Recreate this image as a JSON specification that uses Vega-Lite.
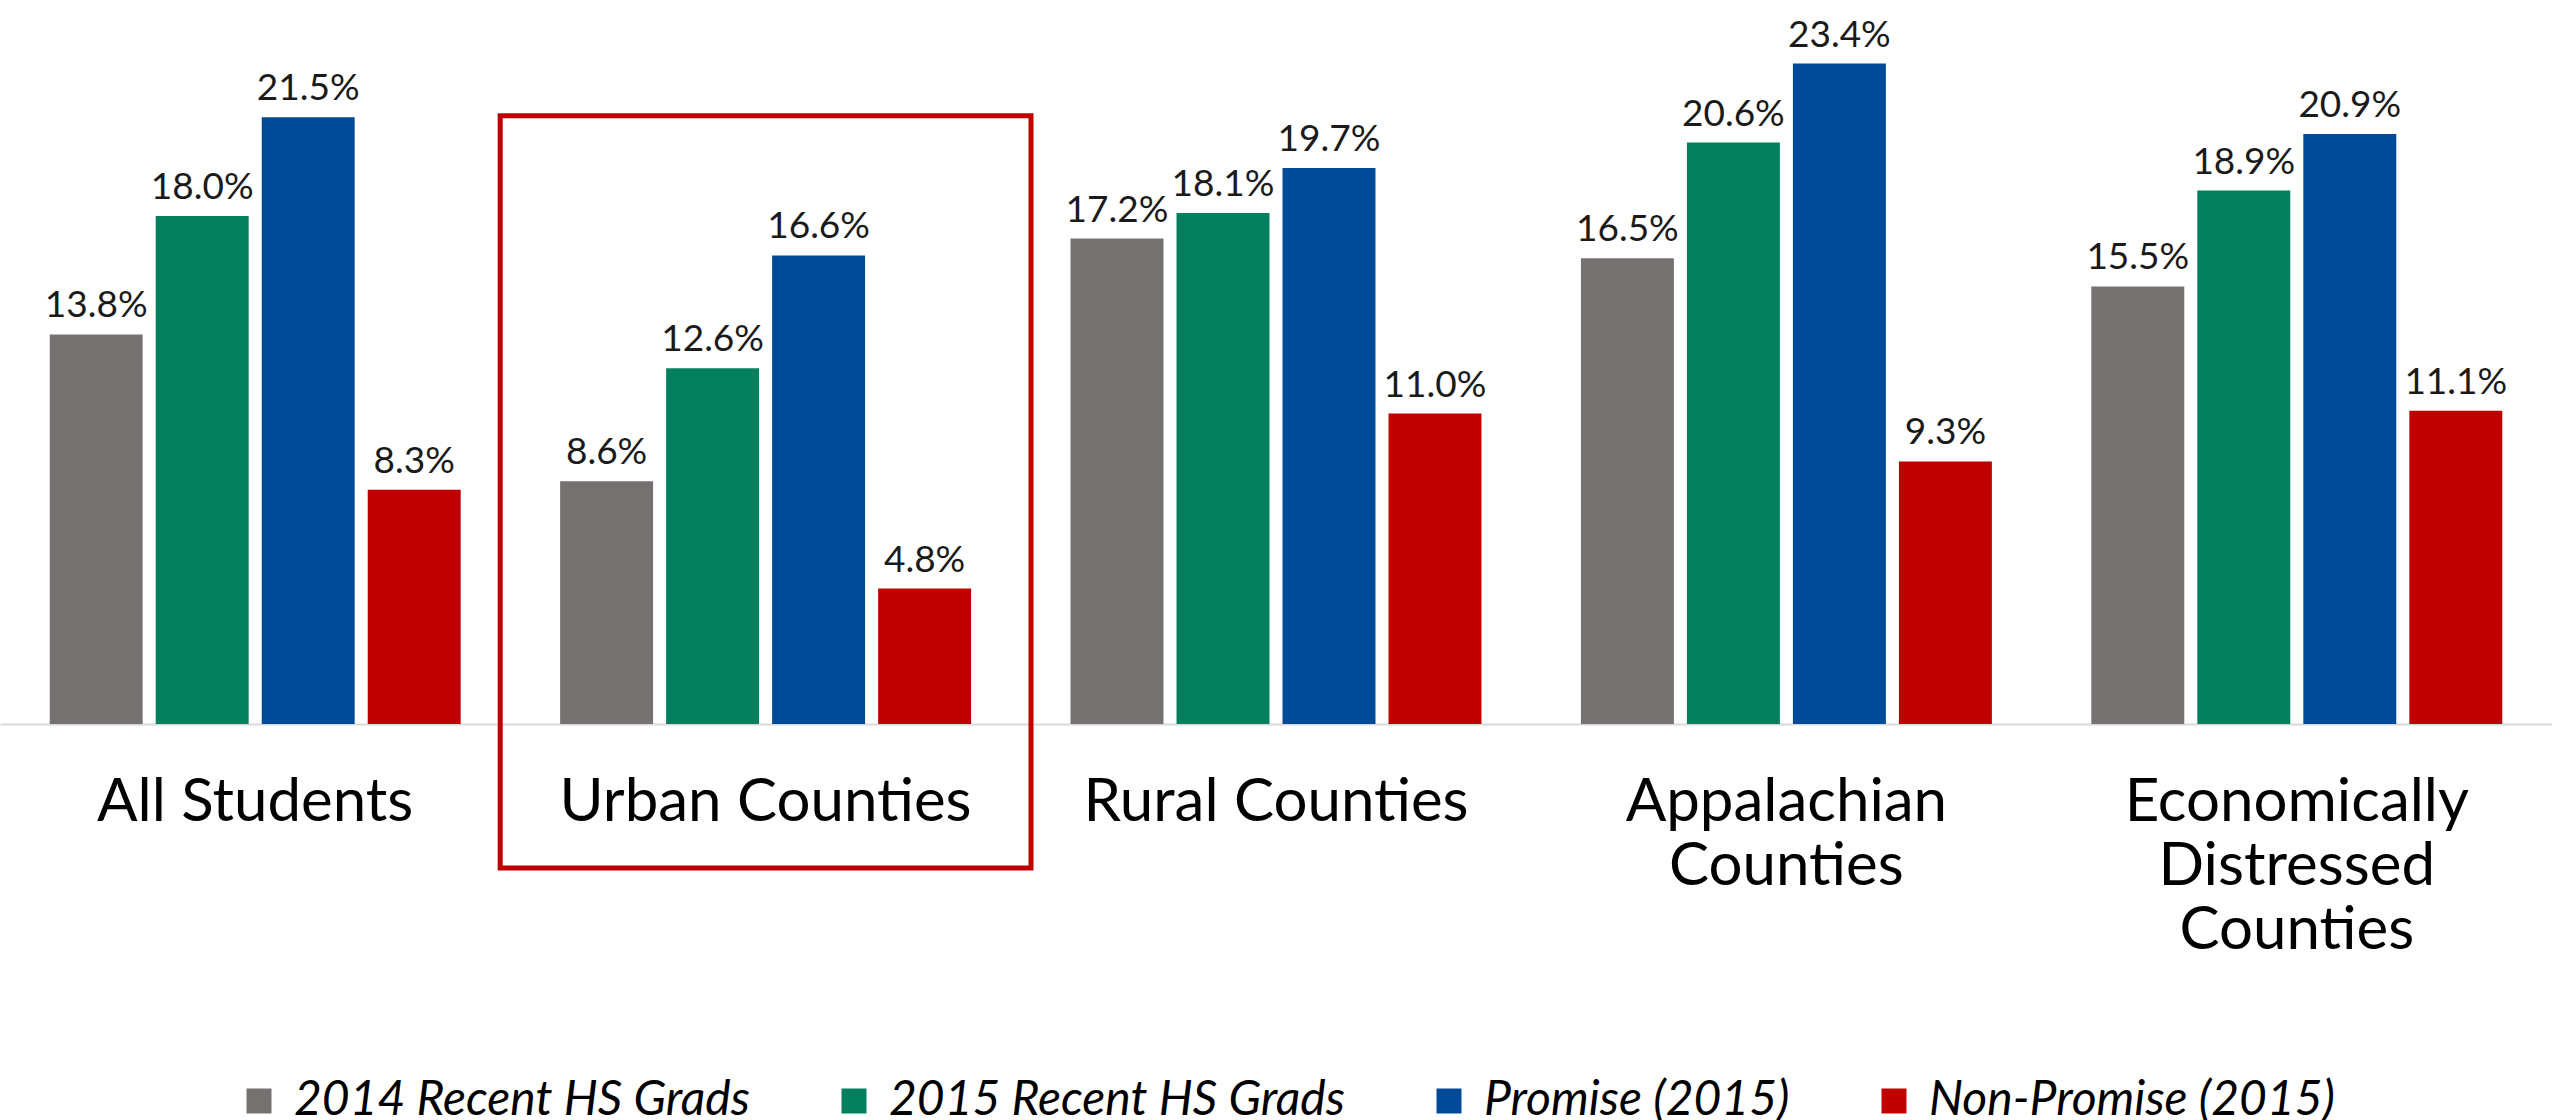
{
  "$schema": "https://vega.github.io/schema/vega-lite/v6.json",
  "width": 2552,
  "height": 724,
  "padding": 0,
  "autosize": {"type": "pad"},
  "config": {
    "view": {"stroke": null},
    "font": "Lato"
  },
  "datasets": {
    "rates": [
      {"category": "All Students", "series": "2014 Recent HS Grads", "value": 0.138},
      {"category": "All Students", "series": "2015 Recent HS Grads", "value": 0.180},
      {"category": "All Students", "series": "Promise (2015)", "value": 0.215},
      {"category": "All Students", "series": "Non-Promise (2015)", "value": 0.083},
      {"category": "Urban Counties", "series": "2014 Recent HS Grads", "value": 0.086},
      {"category": "Urban Counties", "series": "2015 Recent HS Grads", "value": 0.126},
      {"category": "Urban Counties", "series": "Promise (2015)", "value": 0.166},
      {"category": "Urban Counties", "series": "Non-Promise (2015)", "value": 0.048},
      {"category": "Rural Counties", "series": "2014 Recent HS Grads", "value": 0.172},
      {"category": "Rural Counties", "series": "2015 Recent HS Grads", "value": 0.181},
      {"category": "Rural Counties", "series": "Promise (2015)", "value": 0.197},
      {"category": "Rural Counties", "series": "Non-Promise (2015)", "value": 0.110},
      {"category": "Appalachian Counties", "series": "2014 Recent HS Grads", "value": 0.165},
      {"category": "Appalachian Counties", "series": "2015 Recent HS Grads", "value": 0.206},
      {"category": "Appalachian Counties", "series": "Promise (2015)", "value": 0.234},
      {"category": "Appalachian Counties", "series": "Non-Promise (2015)", "value": 0.093},
      {"category": "Economically Distressed Counties", "series": "2014 Recent HS Grads", "value": 0.155},
      {"category": "Economically Distressed Counties", "series": "2015 Recent HS Grads", "value": 0.189},
      {"category": "Economically Distressed Counties", "series": "Promise (2015)", "value": 0.209},
      {"category": "Economically Distressed Counties", "series": "Non-Promise (2015)", "value": 0.111}
    ],
    "highlight": [
      {"category": "Urban Counties", "top": 0.2155, "bottom": -0.051}
    ]
  },
  "layer": [
    {
      "data": {"name": "rates"},
      "mark": {"type": "bar"},
      "encoding": {
        "x": {
          "field": "category", "type": "nominal",
          "sort": ["All Students", "Urban Counties", "Rural Counties", "Appalachian Counties", "Economically Distressed Counties"],
          "scale": {"paddingInner": 0, "paddingOuter": 0},
          "axis": {
            "title": null, "labelAngle": 0, "ticks": false,
            "domainColor": "#d9d9d9", "domainWidth": 2,
            "labelFont": "Lato", "labelFontSize": 60, "labelColor": "#000000",
            "labelPadding": 49, "labelLineHeight": 64, "labelLimit": 0,
            "labelExpr": "datum.label == 'Appalachian Counties' ? ['Appalachian', 'Counties'] : datum.label == 'Economically Distressed Counties' ? ['Economically', 'Distressed', 'Counties'] : datum.label"
          }
        },
        "xOffset": {
          "field": "series", "type": "nominal",
          "sort": ["2014 Recent HS Grads", "2015 Recent HS Grads", "Promise (2015)", "Non-Promise (2015)"],
          "scale": {"paddingInner": 0.123, "paddingOuter": 0.469}
        },
        "y": {
          "field": "value", "type": "quantitative",
          "scale": {"domain": [0, 0.2565], "nice": false, "zero": true},
          "axis": null
        },
        "color": {
          "field": "series", "type": "nominal",
          "scale": {
            "domain": ["2014 Recent HS Grads", "2015 Recent HS Grads", "Promise (2015)", "Non-Promise (2015)"],
            "range": ["#767171", "#02805E", "#014A97", "#C00000"]
          },
          "legend": {
            "title": null, "orient": "none", "direction": "horizontal", "columns": 4,
            "legendX": 235, "legendY": 1077, "padding": 0,
            "symbolType": "square", "symbolSize": 625, "symbolStrokeWidth": 0,
            "labelFont": "Lato", "labelFontSize": 48, "labelFontStyle": "italic",
            "labelColor": "#000000", "labelOffset": 11, "columnPadding": 80, "labelLimit": 0
          }
        }
      }
    },
    {
      "data": {"name": "rates"},
      "mark": {"type": "text", "baseline": "alphabetic", "dy": -17, "fontSize": 37, "font": "Lato", "color": "#1a1a1a"},
      "encoding": {
        "x": {"field": "category", "type": "nominal", "sort": ["All Students", "Urban Counties", "Rural Counties", "Appalachian Counties", "Economically Distressed Counties"]},
        "xOffset": {"field": "series", "type": "nominal", "sort": ["2014 Recent HS Grads", "2015 Recent HS Grads", "Promise (2015)", "Non-Promise (2015)"]},
        "y": {"field": "value", "type": "quantitative"},
        "text": {"field": "value", "type": "quantitative", "format": ".1%"}
      }
    },
    {
      "data": {"name": "highlight"},
      "mark": {"type": "bar", "filled": false, "color": "#C00000", "strokeWidth": 5, "width": {"band": 1.04}},
      "encoding": {
        "x": {"field": "category", "type": "nominal", "sort": ["All Students", "Urban Counties", "Rural Counties", "Appalachian Counties", "Economically Distressed Counties"]},
        "y": {"field": "top", "type": "quantitative"},
        "y2": {"field": "bottom"}
      }
    }
  ]
}
